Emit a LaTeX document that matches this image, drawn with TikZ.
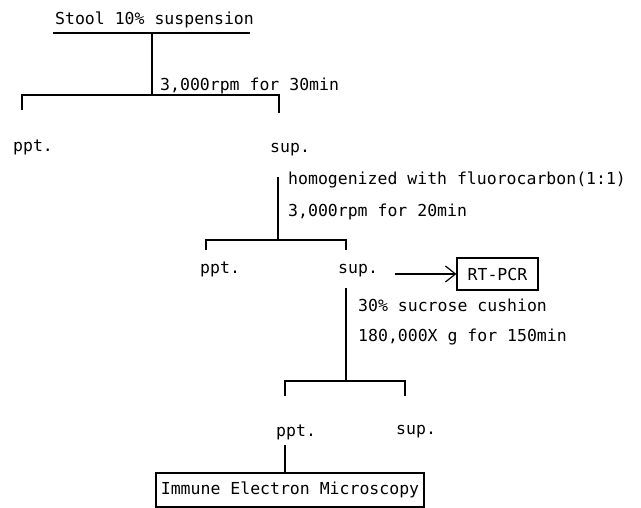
\documentclass[tikz,border=0pt]{standalone}
\usepackage{fontspec}
\setmonofont{DejaVu Sans Mono}
\usepackage{tikz}
\usetikzlibrary{arrows.meta,positioning,calc}

\tikzset{
  label/.style={anchor=west,inner sep=0pt,font=\ttfamily\fontsize{16.5}{18}\selectfont},
  result/.style={draw,line width=1.2pt,inner sep=0pt,font=\ttfamily\fontsize{16.5}{18}\selectfont},
  branch/.style={line width=1.2pt}
}

\begin{document}
\begin{tikzpicture}[x=1pt,y=-1pt]
  \useasboundingbox (0,0) rectangle (641,508);
  % Starting material
  \node[label] (stool) at (55,20) {Stool 10\% suspension};
  \coordinate (stoolL) at (53,33);
  \coordinate (stoolR) at (250,33);
  \coordinate (stoolM) at (152,33);
  \draw[branch] (stoolL) -- (stoolR);
  % First centrifugation
  \node[label] (cenA) at (160,86) {3,000rpm for 30min};
  \coordinate (splitA) at (152,95);
  \coordinate (splitAL) at (22,95);
  \coordinate (splitAR) at (279,95);
  \coordinate (tickAL) at (22,110);
  \coordinate (tickAR) at (279,113);
  \draw[branch] (stoolM) -- (splitA);
  \draw[branch] (tickAL) -- (splitAL) -- (splitAR) -- (tickAR);
  \node[label] (pptA) at (13,147) {ppt.};
  \node[label] (supA) at (270,150) {sup.};
  % Fluorocarbon step
  \node[label] (homog) at (288,180) {homogenized with fluorocarbon(1:1)};
  \node[label] (cenB) at (288,212) {3,000rpm for 20min};
  \coordinate (topB) at (278,177);
  \coordinate (splitB) at (278,240);
  \coordinate (splitBL) at (206,240);
  \coordinate (splitBR) at (346,240);
  \coordinate (tickBL) at (206,250);
  \coordinate (tickBR) at (346,250);
  \draw[branch] (topB) -- (splitB);
  \draw[branch] (tickBL) -- (splitBL) -- (splitBR) -- (tickBR);
  \node[label] (pptB) at (200,269) {ppt.};
  \node[label] (supB) at (338,271) {sup.};
  % RT-PCR
  \node[result,minimum width=81pt,minimum height=32pt] (rtpcr) at (497.5,274) {RT-PCR};
  \coordinate (arrowB) at (395,274);
  \draw[branch,-{Straight Barb[length=10pt,width=16pt,line width=1.2pt]}] (arrowB) -- (rtpcr.west);
  % Sucrose cushion
  \node[label] (sucrose) at (358,305) {30\% sucrose cushion};
  \node[label] (cenC) at (358,337) {180,000X g for 150min};
  \coordinate (topC) at (346,288);
  \coordinate (splitC) at (346,381);
  \coordinate (splitCL) at (285,381);
  \coordinate (splitCR) at (405,381);
  \coordinate (tickCL) at (285,396);
  \coordinate (tickCR) at (405,396);
  \draw[branch] (topC) -- (splitC);
  \draw[branch] (tickCL) -- (splitCL) -- (splitCR) -- (tickCR);
  \node[label] (pptC) at (276,432) {ppt.};
  \node[label] (supC) at (396,432) {sup.};
  % Electron microscopy
  \node[result,minimum width=268pt,minimum height=34pt] (iem) at (290,490) {Immune Electron Microscopy};
  \coordinate (topD) at (285,445);
  \draw[branch] (topD) -- (topD |- iem.north);
\end{tikzpicture}
\end{document}
